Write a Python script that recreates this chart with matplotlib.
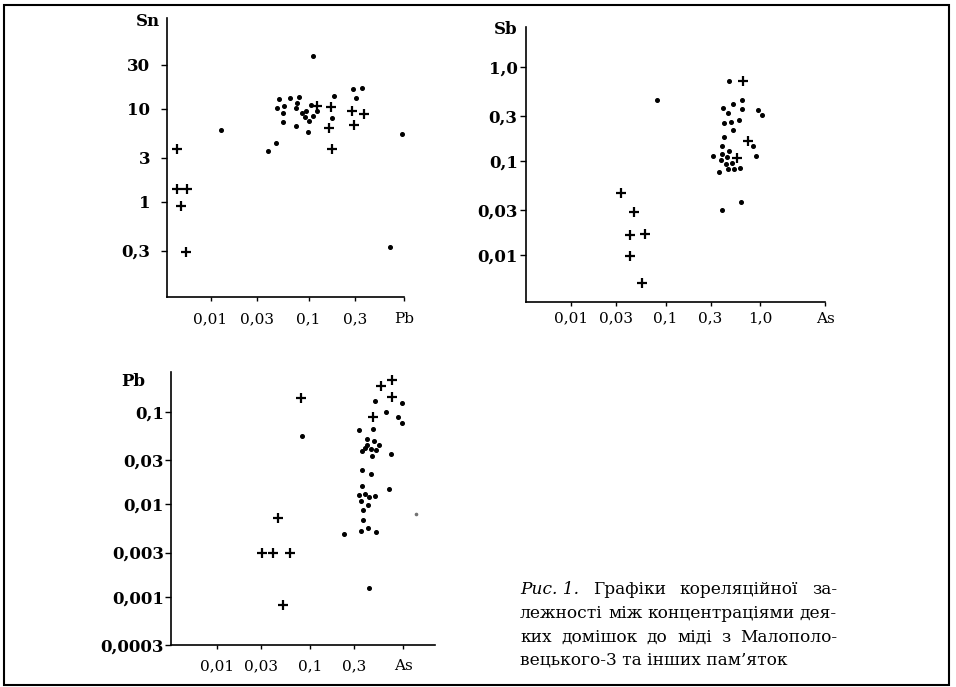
import matplotlib
matplotlib.use("Agg")
import matplotlib.pyplot as plt
from matplotlib.patches import Rectangle
from matplotlib.ticker import NullLocator, FixedLocator, FixedFormatter

plt.rcParams["font.family"] = ["DejaVu Serif"]

W, H = 956, 687

# --- Sn vs Pb ---
sn_pb_dot_pb = [0.0127, 0.0385, 0.0468, 0.0494, 0.065, 0.0796, 0.048, 0.0556, 0.076, 0.0737,
                0.0547, 0.0547, 0.0748, 0.0984, 0.0862, 0.0948, 0.107, 0.122, 0.091, 0.111,
                0.101, 0.112, 0.18, 0.175, 0.283, 0.353, 0.307, 0.68, 0.895]
sn_pb_dot_sn = [5.9, 3.5, 4.3, 12.7, 13.0, 13.6, 10.2, 10.8, 11.5, 10.2,
                9.0, 7.3, 6.6, 5.6, 9.1, 9.5, 11.0, 9.4, 8.1, 8.3,
                7.5, 37, 13.9, 7.9, 16.4, 16.7, 13.0, 0.33, 5.4]
sn_pb_cross_pb = [0.0046, 0.0045, 0.0058, 0.0050, 0.0056, 0.122, 0.171, 0.161, 0.175, 0.279, 0.366, 0.294]
sn_pb_cross_sn = [3.7, 1.39, 1.39, 0.91, 0.29, 10.8, 10.4, 6.2, 3.7, 9.4, 8.8, 6.7]

# --- Sb vs As ---
sb_as_dot_as = [0.0807, 0.473, 0.409, 0.462, 0.522, 0.65, 0.64, 0.419, 0.49, 0.604,
                0.522, 0.416, 0.399, 0.315, 0.399, 0.473, 0.451, 0.384, 0.509, 0.437,
                0.455, 0.371, 0.535, 0.614, 0.837, 0.9, 0.946, 1.06, 0.393, 0.63]
sb_as_dot_sb = [0.442, 0.71, 0.366, 0.324, 0.401, 0.442, 0.361, 0.256, 0.26, 0.271,
                0.212, 0.18, 0.144, 0.113, 0.118, 0.127, 0.11, 0.103, 0.096, 0.092,
                0.0816, 0.0764, 0.083, 0.0843, 0.144, 0.112, 0.346, 0.306, 0.0299, 0.0366]
sb_as_cross_as = [0.0336, 0.0465, 0.042, 0.0607, 0.042, 0.056, 0.666, 0.741, 0.575]
sb_as_cross_sb = [0.0457, 0.0287, 0.0165, 0.0169, 0.0097, 0.00504, 0.71, 0.163, 0.109]

# --- Pb vs As ---
pb_as_dot_as = [0.0814, 0.231, 0.501, 0.664, 0.975, 0.883, 0.975, 0.337, 0.476, 0.415,
                0.485, 0.406, 0.553, 0.389, 0.448, 0.51, 0.367, 0.461, 0.751, 0.367,
                0.448, 0.367, 0.715, 0.335, 0.395, 0.429, 0.506, 0.358, 0.422, 0.37,
                0.373, 0.352, 0.422, 0.51, 0.432]
pb_as_dot_pb = [0.0548, 0.00481, 0.130, 0.1, 0.125, 0.087, 0.075, 0.0636, 0.0647, 0.0508,
                0.0487, 0.0438, 0.0438, 0.0404, 0.0394, 0.0388, 0.0381, 0.0337, 0.0351, 0.0236,
                0.0212, 0.0159, 0.0147, 0.0125, 0.013, 0.0119, 0.0122, 0.0108, 0.0097, 0.0086,
                0.00684, 0.00513, 0.00548, 0.005, 0.00123]
pb_as_cross_as = [0.0794, 0.0457, 0.0308, 0.0398, 0.061, 0.051, 0.573, 0.77, 0.77, 0.47]
pb_as_cross_pb = [0.141, 0.00714, 0.00295, 0.00295, 0.00295, 0.000815, 0.189, 0.219, 0.145, 0.0883]
# faint speck right of the cluster
pb_as_faint_as = [1.37]
pb_as_faint_pb = [0.0079]

panels = [
    dict(box=(167, 18, 404, 297), xlim=(0.0036, 0.94), ylim=(0.095, 95),
         xticks=[0.01, 0.03, 0.1, 0.3, 0.94], xlabels=["0,01", "0,03", "0,1", "0,3", "Pb"],
         yticks=[0.3, 1, 3, 10, 30], ylabels=["0,3", "1", "3", "10", "30"],
         name="Sn", name_xy=(148, 21), xpad=8, ypad=8,
         dots=(sn_pb_dot_pb, sn_pb_dot_sn), crosses=(sn_pb_cross_pb, sn_pb_cross_sn)),
    dict(box=(526, 27, 825, 302), xlim=(0.00334, 4.87), ylim=(0.00316, 2.67),
         xticks=[0.01, 0.03, 0.1, 0.3, 1.0, 4.87], xlabels=["0,01", "0,03", "0,1", "0,3", "1,0", "As"],
         yticks=[0.01, 0.03, 0.1, 0.3, 1.0], ylabels=["0,01", "0,03", "0,1", "0,3", "1,0"],
         name="Sb", name_xy=(506, 29), xpad=4, ypad=2,
         dots=(sb_as_dot_as, sb_as_dot_sb), crosses=(sb_as_cross_as, sb_as_cross_sb)),
    dict(box=(171, 372, 435, 645), xlim=(0.00324, 2.2), ylim=(0.0003, 0.27),
         xticks=[0.01, 0.03, 0.1, 0.3, 1.0], xlabels=["0,01", "0,03", "0,1", "0,3", "As"],
         yticks=[0.0003, 0.001, 0.003, 0.01, 0.03, 0.1],
         ylabels=["0,0003", "0,001", "0,003", "0,01", "0,03", "0,1"],
         name="Pb", name_xy=(133, 381), xpad=7, ypad=1,
         dots=(pb_as_dot_as, pb_as_dot_pb), crosses=(pb_as_cross_as, pb_as_cross_pb)),
]

caption = [
    ["Рис. 1.", "Графіки", "кореляційної", "за-"],
    ["лежності", "між", "концентраціями", "дея-"],
    ["ких", "домішок", "до", "міді", "з", "Малополо-"],
    ["вецького-3", "та", "інших", "пам’яток"],
]

fig = plt.figure(figsize=(W / 100, H / 100), dpi=100)

axes = []
for p in panels:
    x0, y0, x1, y1 = p["box"]
    ax = fig.add_axes([x0 / W, 1 - y1 / H, (x1 - x0) / W, (y1 - y0) / H])
    ax.set_xscale("log")
    ax.set_yscale("log")
    ax.set_xlim(*p["xlim"])
    ax.set_ylim(*p["ylim"])
    for side in ("top", "right"):
        ax.spines[side].set_visible(False)
    for side in ("left", "bottom"):
        ax.spines[side].set_linewidth(1.2)
    ax.xaxis.set_major_locator(FixedLocator(p["xticks"]))
    ax.xaxis.set_major_formatter(FixedFormatter(p["xlabels"]))
    ax.yaxis.set_major_locator(FixedLocator(p["yticks"]))
    ax.yaxis.set_major_formatter(FixedFormatter(p["ylabels"]))
    ax.xaxis.set_minor_locator(NullLocator())
    ax.yaxis.set_minor_locator(NullLocator())
    ax.tick_params(axis="x", length=3, width=1, labelsize=11, pad=p["xpad"])
    ax.tick_params(axis="y", length=4, width=1, labelsize=12, pad=p["ypad"])
    for lbl in ax.get_yticklabels():
        lbl.set_fontweight("bold")
    ax.plot(*p["dots"], "o", color="black", markersize=2.6, linestyle="none", clip_on=False)
    ax.plot(*p["crosses"], "+", color="black", markersize=7, markeredgewidth=1.6,
            linestyle="none", clip_on=False)
    nx, ny = p["name_xy"]
    fig.text(nx / W, 1 - ny / H, p["name"], fontsize=12, fontweight="bold",
             ha="center", va="center")
    axes.append(ax)

axes[2].plot(pb_as_faint_as, pb_as_faint_pb, "o", color="0.45", markersize=1.6,
             linestyle="none", clip_on=False)

# caption block: first three lines justified between cx0 and cx1,
# last line left-aligned and ending near last_end
renderer = fig.canvas.get_renderer()
cx0, cx1, last_end = 520, 837, 808
line_y = [590, 613, 637, 660]


def natural_width(words, fs):
    t = fig.text(0, 0, " ".join(words), fontsize=fs)
    w = t.get_window_extent(renderer).width
    t.remove()
    return w


base = 13
sizes = [base * (cx1 - cx0) / natural_width(ws, base) for ws in caption[:-1]]
sizes.append(base * (last_end - cx0) / natural_width(caption[-1], base))
size = min(sizes)

for i, words in enumerate(caption):
    y = 1 - line_y[i] / H
    if i == len(caption) - 1:
        fig.text(cx0 / W, y, " ".join(words), fontsize=size, va="center", ha="left")
        continue
    texts = []
    for j, w in enumerate(words):
        style = "italic" if (i == 0 and j == 0) else "normal"
        texts.append(fig.text(0, y, w, fontsize=size, fontstyle=style, va="center", ha="left"))
    widths = [t.get_window_extent(renderer).width for t in texts]
    gap = ((cx1 - cx0) - sum(widths)) / (len(words) - 1)
    pos = cx0
    for t, wd in zip(texts, widths):
        t.set_x(pos / W)
        pos += wd + gap

fig.patches.append(Rectangle((4 / W, 2 / H), 945 / W, 680 / H, transform=fig.transFigure,
                             fill=False, edgecolor="black", linewidth=1.5))

fig.savefig("out.png", dpi=100)
